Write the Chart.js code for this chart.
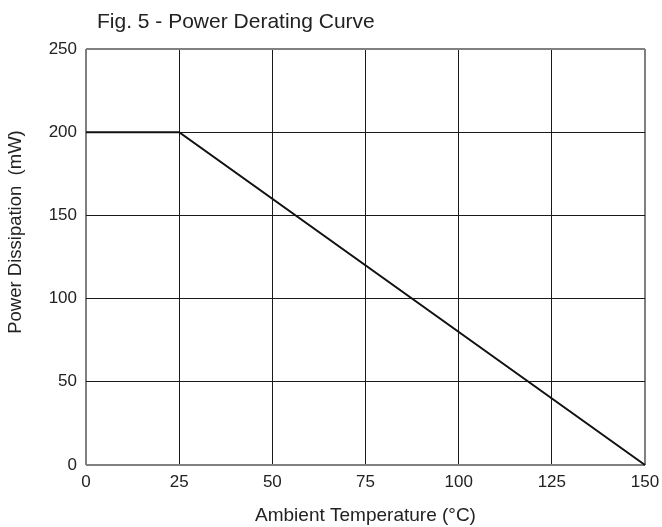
<!DOCTYPE html>
<html>
<head>
<meta charset="utf-8">
<script src="https://cdn.jsdelivr.net/npm/chart.js@4"></script>
<style>
html,body{margin:0;padding:0;background:#fff;}
#wrap{width:662px;height:527px;position:relative;}
</style>
</head>
<body>
<div id="wrap"><canvas id="c" width="662" height="527"></canvas></div>
<script>
const temperatures = [0, 25, 150];
const powerValues = [200, 200, 0];
const xTicks = [0, 25, 50, 75, 100, 125, 150];
const yTicks = [0, 50, 100, 150, 200, 250];
const chartTitle = 'Fig. 5 - Power Derating Curve';
const xTitle = 'Ambient Temperature (°C)';
const yTitle = 'Power Dissipation  (mW)';

const FONT = 'Liberation Sans, Arial, sans-serif';

const textPlugin = {
  id: 'figText',
  afterDraw(chart) {
    const ctx = chart.ctx;
    ctx.save();
    ctx.font = '21px ' + FONT;
    ctx.fillStyle = '#222';
    ctx.textBaseline = 'middle';
    ctx.textAlign = 'left';
    ctx.fillText(chartTitle, 97, 22);
    ctx.translate(16, 232);
    ctx.rotate(-Math.PI / 2);
    ctx.textAlign = 'center';
    ctx.font = '18.5px ' + FONT;
    ctx.fillText(yTitle, 0, 0);
    ctx.restore();
  }
};

const gridColor = (ctx, last) => {
  const i = ctx.index;
  if (i === 0 || i === last) return '#808080';
  return '#1a1a1a';
};
const gridWidth = (ctx, last) => {
  const i = ctx.index;
  return (i === 0 || i === last) ? 2 : 1;
};

new Chart(document.getElementById('c'), {
  type: 'scatter',
  data: {
    datasets: [{
      data: temperatures.map((t, i) => ({x: t, y: powerValues[i]})),
      showLine: true,
      borderColor: '#111',
      borderWidth: 2,
      pointRadius: 0,
      tension: 0,
      clip: false
    }]
  },
  plugins: [textPlugin],
  options: {
    responsive: false,
    animation: false,
    devicePixelRatio: 1,
    layout: {padding: {left: 0, right: 17, top: 49, bottom: 0}},
    plugins: {legend: {display: false}, tooltip: {enabled: false}},
    scales: {
      x: {
        type: 'linear',
        min: 0, max: 150,
        afterBuildTicks: s => { s.ticks = xTicks.map(v => ({value: v})); },
        afterFit: s => { s.height = 62; s.paddingLeft = 0; s.paddingRight = 0; },
        grid: {drawTicks: false, color: c => gridColor(c, xTicks.length - 1), lineWidth: c => gridWidth(c, xTicks.length - 1)},
        border: {display: false},
        ticks: {padding: 7, color: '#222', font: {family: FONT, size: 17}, maxRotation: 0},
        title: {display: true, text: xTitle, color: '#222', font: {family: FONT, size: 19}, padding: {top: 4, bottom: 0}}
      },
      y: {
        type: 'linear',
        min: 0, max: 250,
        afterBuildTicks: s => { s.ticks = yTicks.map(v => ({value: v})); },
        afterFit: s => { s.width = 86; s.paddingTop = 0; s.paddingBottom = 0; },
        grid: {drawTicks: false, color: c => gridColor(c, yTicks.length - 1), lineWidth: c => gridWidth(c, yTicks.length - 1)},
        border: {display: false},
        ticks: {padding: 9, color: '#222', font: {family: FONT, size: 17}}
      }
    }
  }
});
</script>
</body>
</html>
